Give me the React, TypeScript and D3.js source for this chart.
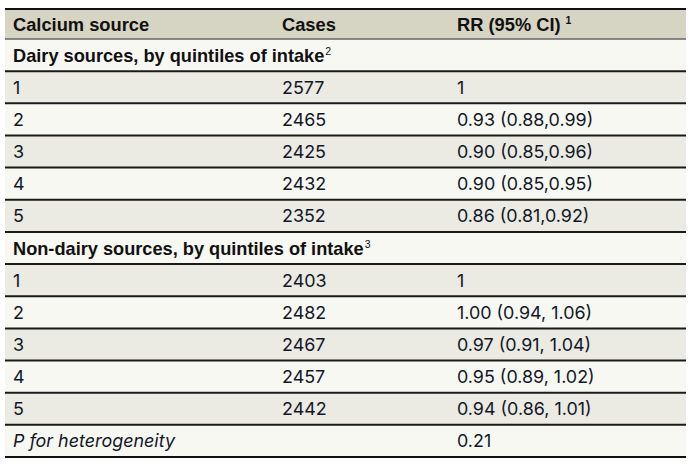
import React from "react";
import * as d3 from "d3";

const columns = ["Calcium source", "Cases", "RR (95% CI)"];
const headerSup = "1";
const dairyTitle = "Dairy sources, by quintiles of intake";
const dairySup = "2";
const nonDairyTitle = "Non-dairy sources, by quintiles of intake";
const nonDairySup = "3";
const quintiles = ["1", "2", "3", "4", "5"];
const dairyCases = [2577, 2465, 2425, 2432, 2352];
const dairyRR = ["1", "0.93 (0.88,0.99)", "0.90 (0.85,0.96)", "0.90 (0.85,0.95)", "0.86 (0.81,0.92)"];
const nonDairyCases = [2403, 2482, 2467, 2457, 2442];
const nonDairyRR = ["1", "1.00 (0.94, 1.06)", "0.97 (0.91, 1.04)", "0.95 (0.89, 1.02)", "0.94 (0.86, 1.01)"];
const pLabel = "P for heterogeneity";
const pValue = "0.21";

type Row = { kind: "section" | "data" | "p"; c1: string; c2?: string; c3?: string; sup?: string };

const rows: Row[] = [
  { kind: "section", c1: dairyTitle, sup: dairySup },
  ...quintiles.map((q, i) => ({ kind: "data" as const, c1: q, c2: String(dairyCases[i]), c3: dairyRR[i] })),
  { kind: "section", c1: nonDairyTitle, sup: nonDairySup },
  ...quintiles.map((q, i) => ({ kind: "data" as const, c1: q, c2: String(nonDairyCases[i]), c3: nonDairyRR[i] })),
  { kind: "p", c1: pLabel, c3: pValue },
];

const W = 695;
const H = 467;
const left = 5;
const right = 686;
const headerTop = 9;
const headerBottom = 39;
const bodyBottom = 457;

const colX = [13, 282, 457];
const boldFont = "'Liberation Sans', Arial, sans-serif";
const bodyFont = "Inter, 'Open Sans', sans-serif";
const textColor = "#111827";
const bodySize = 17.9;

export default function App() {
  const y = d3
    .scaleBand<number>()
    .domain(d3.range(rows.length))
    .range([headerBottom, bodyBottom])
    .paddingInner(0)
    .paddingOuter(0);
  const bw = y.bandwidth();

  return (
    <svg
      width={W}
      height={H}
      style={{ position: "absolute", left: 0, top: 0, background: "#ffffff" }}
    >
      <rect x={0} y={0} width={W} height={H} fill="#ffffff" />
      <rect x={left} y={headerTop} width={right - left} height={headerBottom - headerTop} fill="#d6d4c2" />
      {columns.map((c, i) => (
        <text
          key={c}
          x={colX[i]}
          y={(headerTop + headerBottom) / 2 + 6.5}
          fontFamily={boldFont}
          fontWeight="bold"
          fontSize={18.3}
          fill="#111"
        >
          {c}
          {i === 2 && (
            <tspan dx={5} dy={-7} fontSize={10.5}>
              {headerSup}
            </tspan>
          )}
        </text>
      ))}
      {rows.map((r, i) => {
        const top = y(i) as number;
        const fill = i % 2 === 0 ? "#f8f8f3" : "#ebeae3";
        const cy = top + bw / 2 + 6.5;
        return (
          <g key={i}>
            <rect x={left} y={top} width={right - left} height={bw} fill={fill} />
            {r.kind === "section" ? (
              <text x={colX[0]} y={cy} fontFamily={boldFont} fontWeight="bold" fontSize={18.2} fill="#111">
                {r.c1}
                <tspan dx={1} dy={-7} fontSize={10.5} fontWeight="normal">
                  {r.sup}
                </tspan>
              </text>
            ) : (
              <>
                <text
                  x={colX[0]}
                  y={cy}
                  fontFamily={bodyFont}
                  fontSize={bodySize}
                  fontStyle={r.kind === "p" ? "italic" : "normal"}
                  fill={textColor}
                >
                  {r.c1}
                </text>
                {r.c2 && (
                  <text x={colX[1]} y={cy} fontFamily={bodyFont} fontSize={bodySize} fill={textColor}>
                    {r.c2}
                  </text>
                )}
                {r.c3 && (
                  <text x={colX[2]} y={cy} fontFamily={bodyFont} fontSize={bodySize} fill={textColor}>
                    {r.c3}
                  </text>
                )}
              </>
            )}
          </g>
        );
      })}
      <line x1={left} x2={right} y1={headerTop} y2={headerTop} stroke="#111" strokeWidth={2} />
      <line x1={left} x2={right} y1={headerBottom} y2={headerBottom} stroke="#666" strokeWidth={1.5} />
      {rows.map((r, i) =>
        i === 0 ? null : (
          <line
            key={"l" + i}
            x1={left}
            x2={right}
            y1={y(i) as number}
            y2={y(i) as number}
            stroke="#1a1a1a"
            strokeWidth={2}
          />
        )
      )}
      <line x1={left} x2={right} y1={bodyBottom} y2={bodyBottom} stroke="#111" strokeWidth={2} />
    </svg>
  );
}
